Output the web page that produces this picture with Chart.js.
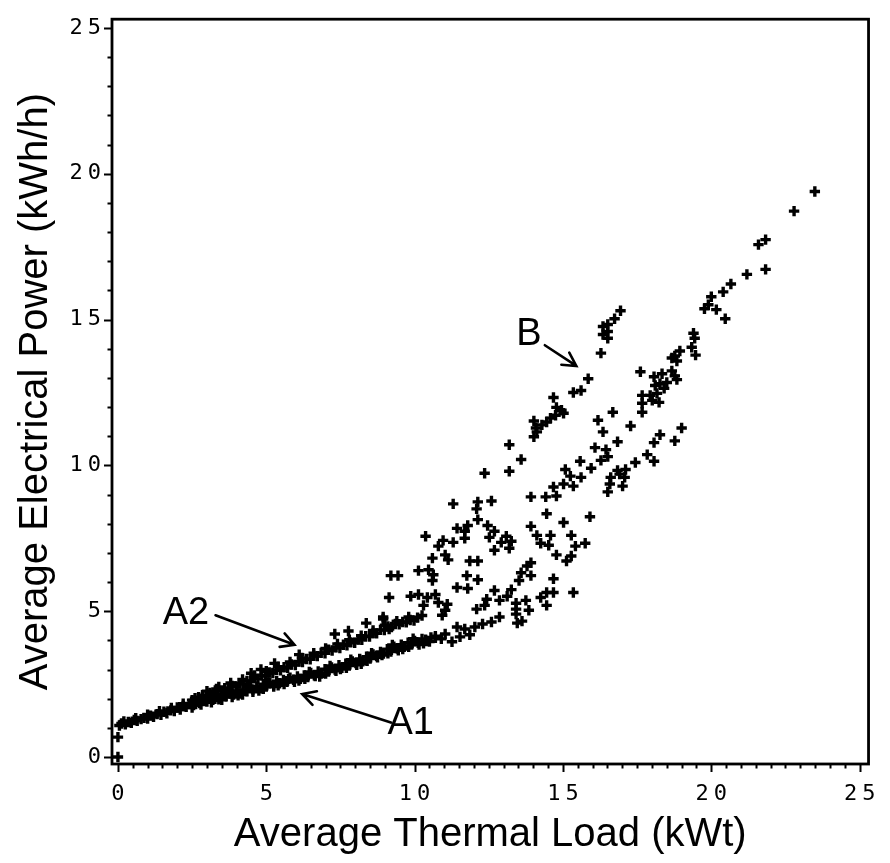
<!DOCTYPE html>
<html><head><meta charset="utf-8">
<script src="https://cdn.jsdelivr.net/npm/chart.js@4/dist/chart.umd.min.js"></script>
<style>html,body{margin:0;padding:0;background:#fff}</style>
</head><body>
<canvas id="c" width="890" height="863"></canvas>
<script>
// ---- tick values / labels ----
const xMajorTicks = [0, 5, 10, 15, 20, 25];
const yMajorTicks = [0, 5, 10, 15, 20, 25];
const xMinorStep = 0.5;
const yMinorStep = 1;

// ---- data: [thermal load kWt, electrical power kWh/h] ----
const originPoints = [[0.0,0.0],[0.0,0.68]];

const bandA1 = [
[0.05,1.08],[0.12,1.15],[0.25,1.12],[0.35,1.20],[0.45,1.17],[0.55,1.27],[0.65,1.24],[0.78,1.30],[0.88,1.34],[1.0,1.32],
[1.1,1.42],[1.2,1.38],[1.32,1.47],[1.45,1.45],[1.55,1.55],[1.65,1.50],[1.78,1.60],[1.9,1.58],[2.0,1.70],[2.1,1.63],
[2.2,1.75],[2.3,1.72],[2.42,1.82],[2.55,1.78],[2.65,1.90],[2.75,1.85],[2.88,1.95],[3.0,1.90],[3.1,2.02],[3.2,1.96],
[3.32,2.06],[3.45,2.03],[3.55,2.14],[3.65,2.08],[3.78,2.18],[3.9,2.14],[4.0,2.26],[4.1,2.18],[4.22,2.30],[4.35,2.25],
[4.45,2.38],[4.55,2.31],[4.68,2.42],[4.8,2.36],[4.9,2.50],[5.0,2.42],[5.12,2.53],[5.25,2.47],[5.35,2.60],[5.45,2.53],
[5.58,2.64],[5.7,2.58],[5.8,2.72],[5.92,2.65],[6.05,2.76],[6.15,2.68],[6.28,2.80],[6.4,2.74],[6.5,2.88],[6.62,2.80],
[6.75,2.93],[6.85,2.86],[6.98,3.01],[7.1,2.93],[7.2,3.07],[7.32,3.00],[7.45,3.15],[7.55,3.06],[7.68,3.20],[7.8,3.14],
[7.9,3.28],[8.02,3.22],[8.15,3.36],[8.25,3.28],[8.38,3.44],[8.5,3.38],[8.6,3.52],[8.72,3.46],[8.85,3.60],[8.95,3.55],
[9.08,3.70],[9.2,3.62],[9.3,3.78],[9.42,3.72],[9.55,3.85],[9.65,3.78],[9.78,3.92],[9.9,3.86],[10.0,3.98],[10.12,3.92],
[10.25,4.05],[10.4,3.98],[10.55,4.10],
[3.05,2.08],[3.4,1.98],[3.75,2.26],[4.05,2.12],[4.4,2.42],[4.75,2.28],[5.05,2.56],[5.4,2.46],[5.75,2.68],[6.1,2.62],
[6.45,2.92],[6.8,2.76],[7.15,3.12],[7.5,3.02],[7.85,3.34],[8.2,3.20],[8.55,3.56],[8.9,3.50],[9.25,3.84],[9.6,3.70],
[9.95,4.06],[10.3,3.90],[10.7,4.14],[10.9,4.05],
[2.5,1.70],[2.8,1.80],[3.15,1.88],[3.5,1.96],[3.85,2.06],[4.2,2.14],[4.55,2.24],[4.9,2.34],[5.25,2.42],[5.6,2.50],
[5.95,2.58],[6.3,2.68],[6.65,2.78],[7.0,2.86],[7.35,2.96],[7.7,3.06],[8.05,3.16],[8.4,3.30],[8.75,3.42],[9.1,3.56],
[9.45,3.66],[9.8,3.78],[10.15,3.86],[10.5,3.96],
[0.2,1.22],[0.6,1.33],[1.0,1.45],[1.4,1.57],[1.8,1.68],[2.2,1.83],[2.5,1.95]
];

const bandA2 = [
[2.6,2.02],[2.72,2.05],[2.85,2.12],[2.98,2.10],[3.1,2.20],[3.22,2.18],[3.35,2.28],[3.48,2.26],[3.6,2.36],[3.72,2.35],
[3.85,2.44],[3.98,2.42],[4.1,2.53],[4.22,2.50],[4.35,2.61],[4.48,2.60],[4.6,2.70],[4.72,2.68],[4.85,2.80],[4.98,2.78],
[5.1,2.90],[5.22,2.88],[5.35,2.98],[5.48,2.97],[5.6,3.08],[5.72,3.06],[5.85,3.17],[5.98,3.15],[6.1,3.28],[6.22,3.26],
[6.35,3.36],[6.48,3.35],[6.6,3.47],[6.72,3.46],[6.85,3.57],[6.98,3.56],[7.1,3.68],[7.22,3.65],[7.35,3.76],[7.48,3.74],
[7.6,3.85],[7.72,3.83],[7.85,3.93],[7.98,3.92],[8.1,4.03],[8.22,4.02],[8.35,4.14],[8.48,4.13],[8.6,4.25],[8.72,4.24],
[8.85,4.36],[8.98,4.35],[9.1,4.48],[9.22,4.46],[9.35,4.56],[9.48,4.55],[9.6,4.63],[9.72,4.62],[9.85,4.70],[9.98,4.68],
[10.1,4.78],[10.25,4.85],
[3.0,2.26],[3.4,2.40],[3.8,2.54],[4.2,2.66],[4.6,2.80],[5.0,2.94],[5.4,3.10],[5.8,3.26],[6.2,3.40],[6.6,3.56],
[7.0,3.72],[7.4,3.88],[7.8,4.02],[8.2,4.16],[8.6,4.34],[9.0,4.52],[9.4,4.66],[9.8,4.80],
[4.49,2.87],[4.82,3.00],[5.28,3.21],[6.11,3.51],[7.31,4.22],[7.77,4.32],[8.37,4.59],[8.94,4.80],[3.32,2.33]
];

const lowerTail = [
[13.46,4.59],[13.62,4.66],[12.86,4.80],[12.59,4.63],[12.29,4.56],[12.03,4.46],[11.69,4.39],[11.43,4.46],[11.86,4.19],
[11.53,4.12],[11.26,3.95],[11.03,4.22],[10.70,4.09],[10.37,4.02]
];

const upperScatter = [
[11.30,8.68],[12.13,8.75],[12.59,8.78],[12.09,8.51],[12.13,8.14],[11.79,7.94],[11.69,7.74],[11.43,7.84],[11.69,7.50],
[12.46,7.94],[12.69,7.74],[12.52,7.53],[10.37,7.57],[10.96,7.43],[10.80,7.23],[11.30,7.36],[13.09,7.57],[13.26,7.40],
[12.92,7.36],[13.19,7.16],[12.69,7.09],[11.03,6.93],[11.13,6.76],[10.60,6.82],[11.86,6.72],[12.13,6.72],[10.13,6.39],
[10.47,6.42],[10.63,6.25],[10.60,6.05],[9.20,6.22],[9.44,6.22],[11.76,6.22],[12.13,6.08],[11.43,5.81],[11.79,5.78],
[9.87,5.51],[10.13,5.57],[10.43,5.47],[10.70,5.57],[10.80,5.30],[11.10,5.24],[11.03,5.03],[10.30,5.20],[10.93,4.86],
[9.14,5.47],[8.94,4.73],[9.14,4.39]
];

const middleScatter = [
[13.92,7.91],[14.12,7.60],[14.58,7.60],[14.25,7.33],[14.52,7.26],[14.78,6.93],[15.28,7.60],[15.42,7.23],[15.28,6.89],
[15.12,6.72],[13.92,6.66],[13.79,6.55],[13.59,6.32],[13.92,6.22],[13.52,6.05],[14.68,6.11],[13.26,5.74],[13.12,5.51],
[12.69,5.71],[12.43,5.41],[12.86,5.37],[12.36,5.20],[12.09,5.07],[13.75,5.37],[13.42,5.27],[13.42,5.07],[13.42,4.90],
[13.85,5.03],[14.25,5.47],[14.45,5.64],[14.68,5.64],[14.45,5.20],[15.35,5.64]
];

const groupB = [
[16.94,15.30],[16.74,15.03],[16.51,14.83],[16.35,14.76],[16.51,14.59],[16.35,14.49],[16.51,14.36],[16.28,13.85],
[15.85,12.97],[15.61,12.57],[15.35,12.50],[14.68,12.33],[14.78,11.99],[14.95,11.89],[15.02,11.79],[14.75,11.72],
[14.58,11.62],[14.45,11.49],[14.29,11.39],[14.09,11.28],[14.02,11.52],[14.02,10.98],[14.12,11.15],[13.19,10.71],
[13.59,10.20],[13.19,9.80],[12.36,9.73]
];

const midRight = [
[16.68,11.82],[16.18,11.55],[16.35,11.15],[17.28,11.35],[16.84,10.81],[16.08,10.61],[16.45,10.54],[16.51,10.30],
[16.28,10.17],[15.95,9.90],[15.58,10.14],[15.08,9.86],[15.25,9.63],[15.61,9.59],[14.68,9.26],[15.02,9.36],[15.35,9.29],
[14.78,8.95],[14.42,8.92],[13.92,8.92],[14.45,8.34],[15.02,8.04],[15.91,8.24],[15.75,7.33]
];

const lowerRight = [
[19.00,11.28],[18.27,11.05],[18.77,10.84],[18.07,10.78],[17.84,10.37],[18.07,10.14],[17.44,10.10],[17.11,9.86],
[16.84,9.83],[16.61,9.59],[17.08,9.59],[17.01,9.29],[16.58,9.36],[16.51,9.09],[16.91,9.70]
];

const upperRight = [
[23.49,19.39],[22.79,18.72],[21.59,17.57],[21.83,17.74],[21.83,16.72],[21.20,16.55],[20.66,16.22],[20.40,15.95],
[20.00,15.78],[19.90,15.51],[19.77,15.37],[20.17,15.34],[20.47,15.03],
[19.40,14.53],[19.44,14.36],[19.34,14.05],[19.47,13.78],[18.94,13.92],[18.77,13.75],[18.84,13.58],[18.67,13.68],
[17.61,13.21],[18.07,13.04],[18.34,13.14],[18.67,13.24],[18.77,13.07],[18.84,12.94],[18.27,12.80],[18.11,12.74],
[18.50,12.84],[18.41,12.64],[18.17,12.47],[17.94,12.40],[17.67,12.40],[17.67,12.13],[18.01,12.23],[18.24,12.16],[17.67,11.82]
];

// ---- annotations (data coordinates) ----
const annotationLabels = ['A2', 'A1', 'B'];
const annotationTextAt = [[2.29,4.97],[9.87,1.18],[13.85,14.53]];
const annotationArrowFrom = [[3.29,4.86],[9.20,1.18],[14.39,14.12]];
const annotationArrowTo = [[5.95,3.85],[6.21,2.16],[15.45,13.41]];

const groups = [originPoints, bandA1, bandA2, lowerTail, upperScatter, middleScatter, groupB, midRight, lowerRight, upperRight];

const datasets = groups.map(g => ({
  data: g.map(([x, y]) => ({x, y})),
  pointStyle: 'cross',
  pointRadius: 5.2,
  pointBorderWidth: 3.4,
  borderColor: '#000',
  backgroundColor: '#000',
  showLine: false
}));

const LS = 5;

const framePlugin = {
  id: 'frame',
  afterDatasetsDraw(chart) {
    const ctx = chart.ctx;
    const {left, right, top, bottom} = chart.chartArea;
    const xs = chart.scales.x, ys = chart.scales.y;
    ctx.save();
    ctx.strokeStyle = '#000';
    ctx.lineWidth = 2.8;
    ctx.strokeRect(left, top, right - left, bottom - top);
    ctx.lineWidth = 2;
    ctx.beginPath();
    for (let v = 0; v <= 25.001; v += xMinorStep) {
      const p = Math.round(xs.getPixelForValue(v)) + 0.5;
      const major = Math.abs(v / 5 - Math.round(v / 5)) < 1e-6;
      ctx.moveTo(p, bottom);
      ctx.lineTo(p, bottom + (major ? 8 : 4.5));
    }
    for (let v = 0; v <= 25.001; v += yMinorStep) {
      const p = Math.round(ys.getPixelForValue(v)) + 0.5;
      const major = v % 5 === 0;
      ctx.moveTo(left, p);
      ctx.lineTo(left - (major ? 8 : 4.5), p);
    }
    ctx.stroke();

    // annotations
    ctx.fillStyle = '#000';
    ctx.font = '38px "Liberation Sans", Arial, sans-serif';
    ctx.textAlign = 'center';
    ctx.textBaseline = 'middle';
    ctx.lineWidth = 2.6;
    ctx.lineCap = 'round';
    annotationLabels.forEach((t, i) => {
      const tx = xs.getPixelForValue(annotationTextAt[i][0]);
      const ty = ys.getPixelForValue(annotationTextAt[i][1]);
      ctx.fillText(t, tx, ty + 1);
      const x1 = xs.getPixelForValue(annotationArrowFrom[i][0]);
      const y1 = ys.getPixelForValue(annotationArrowFrom[i][1]);
      const x2 = xs.getPixelForValue(annotationArrowTo[i][0]);
      const y2 = ys.getPixelForValue(annotationArrowTo[i][1]);
      const a = Math.atan2(y2 - y1, x2 - x1);
      const L = 15, w = 0.5;
      ctx.beginPath();
      ctx.moveTo(x1, y1); ctx.lineTo(x2, y2);
      ctx.moveTo(x2 - L * Math.cos(a - w), y2 - L * Math.sin(a - w));
      ctx.lineTo(x2, y2);
      ctx.lineTo(x2 - L * Math.cos(a + w), y2 - L * Math.sin(a + w));
      ctx.stroke();
    });
    ctx.restore();
    ctx.letterSpacing = LS + 'px';
  },
  afterDraw(chart) {
    chart.ctx.letterSpacing = '0px';
  }
};

const tickFont = {family: '"DejaVu Sans Mono", monospace', size: 22};
const titleFont = {family: '"Liberation Sans", Arial, sans-serif', size: 40};

new Chart(document.getElementById('c'), {
  type: 'scatter',
  data: {datasets},
  options: {
    responsive: false,
    animation: false,
    layout: {padding: {top: 8, right: 10, left: 0, bottom: 0}},
    plugins: {legend: {display: false}, tooltip: {enabled: false}},
    scales: {
      x: {
        type: 'linear', position: 'bottom', min: -0.2, max: 25.3,
        afterBuildTicks: s => { s.ticks = xMajorTicks.map(v => ({value: v})); },
        afterFit: s => { s.height = 99; },
        grid: {display: false, drawTicks: false},
        border: {display: false},
        ticks: {z: 1, padding: 17, labelOffset: LS / 2, color: '#000', font: tickFont, maxRotation: 0, autoSkip: false,
                callback: v => String(v)},
        title: {display: true, text: 'Average Thermal Load (kWt)', color: '#000', font: titleFont, padding: {top: 0, bottom: 4}}
      },
      y: {
        type: 'linear', position: 'left', min: -0.24, max: 25.3,
        afterBuildTicks: s => { s.ticks = yMajorTicks.map(v => ({value: v})); },
        afterFit: s => { s.width = 112; },
        grid: {display: false, drawTicks: false},
        border: {display: false},
        ticks: {z: 1, padding: 6, color: '#000', font: tickFont, autoSkip: false, callback: v => String(v)},
        title: {display: true, text: 'Average Electrical Power (kWh/h)', color: '#000', font: titleFont, padding: {top: 12, bottom: 0}}
      }
    }
  },
  plugins: [framePlugin]
});
</script>
</body></html>
